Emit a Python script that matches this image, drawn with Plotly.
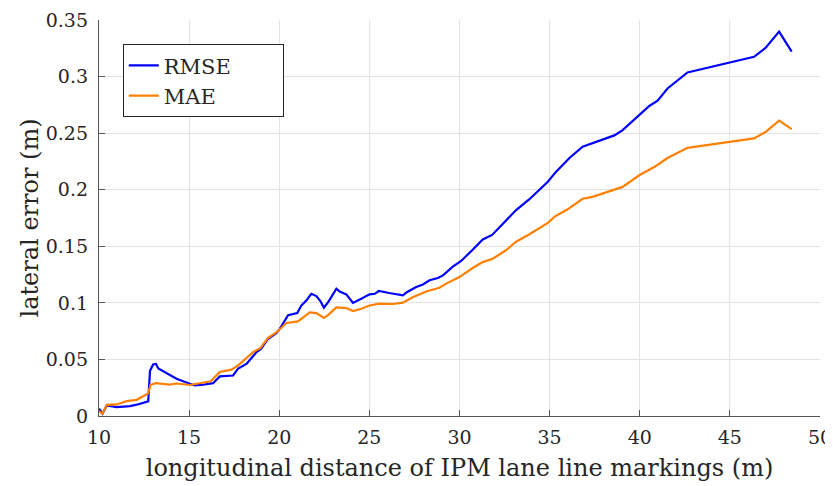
import plotly.graph_objects as go

x_rmse = [10.0, 10.2, 10.43, 10.98, 11.72, 12.09, 12.73, 12.83, 13.0, 13.16, 13.29, 13.93, 14.3, 15.04, 15.32,
          15.78, 16.33, 16.7, 17.44, 17.72, 18.18, 18.74, 19.0, 19.38, 19.84, 20.03, 20.49, 21.0, 21.23, 21.5,
          21.78, 22.06, 22.28, 22.48, 22.75, 23.17, 23.35, 23.72, 24.09, 24.55, 25.01, 25.3, 25.53, 26.1, 26.86,
          27.1, 27.6, 27.97, 28.34, 28.8, 29.08, 29.63, 30.09, 30.73, 31.29, 31.81, 32.4, 33.14, 33.88, 34.9,
          35.36, 36.1, 36.83, 37.76, 38.59, 39.05, 39.97, 40.53, 40.99, 41.54, 42.65, 44.96, 46.34, 46.99,
          47.73, 48.43]
y_rmse = [0.0064, 0.002, 0.0093, 0.0078, 0.0087, 0.010, 0.013, 0.040, 0.0456, 0.046, 0.042, 0.0367, 0.033,
          0.0285, 0.027, 0.0276, 0.029, 0.035, 0.0358, 0.042, 0.046, 0.0565, 0.0594, 0.0683, 0.0733, 0.077,
          0.089, 0.091, 0.0978, 0.102, 0.108, 0.106, 0.1016, 0.0957, 0.1016, 0.1125, 0.110, 0.1075, 0.100,
          0.1037, 0.1075, 0.108, 0.1105, 0.1087, 0.1066, 0.1096, 0.114, 0.1163, 0.120, 0.122, 0.1243, 0.132,
          0.137, 0.147, 0.156, 0.160, 0.1695, 0.182, 0.1916, 0.207, 0.216, 0.228, 0.238, 0.243, 0.248, 0.2527,
          0.2665, 0.274, 0.2786, 0.2895, 0.3037, 0.3126, 0.3175, 0.3255, 0.3397, 0.322]

x_mae = [10.0, 10.2, 10.43, 10.98, 11.53, 12.09, 12.45, 12.73, 12.86, 13.16, 13.9, 14.3, 15.04, 15.78, 16.2,
         16.7, 17.35, 17.72, 18.55, 18.95, 19.38, 19.84, 20.4, 21.04, 21.32, 21.69, 22.06, 22.48, 22.75, 23.17,
         23.72, 24.1, 24.55, 25.01, 25.57, 26.3, 26.86, 27.41, 28.15, 28.89, 29.26, 30.0, 30.73, 31.29, 31.84,
         32.58, 33.14, 33.88, 34.9, 35.26, 36.0, 36.83, 37.38, 38.59, 39.05, 39.97, 40.9, 41.54, 42.65, 46.34,
         46.99, 47.73, 48.43]
y_mae = [0.0044, 0.002, 0.0099, 0.0102, 0.0131, 0.0143, 0.0175, 0.020, 0.0276, 0.029, 0.0277, 0.0287, 0.0274,
         0.0295, 0.0307, 0.0389, 0.041, 0.0448, 0.0565, 0.060, 0.069, 0.0738, 0.0822, 0.0836, 0.0869, 0.0916,
         0.091, 0.0866, 0.0898, 0.0960, 0.0954, 0.0928, 0.0948, 0.0977, 0.0993, 0.099, 0.1002, 0.105, 0.110,
         0.1134, 0.117, 0.1228, 0.1308, 0.136, 0.139, 0.1465, 0.1540, 0.1606, 0.1706, 0.176, 0.1827, 0.192,
         0.1937, 0.1996, 0.2025, 0.2128, 0.221, 0.228, 0.237, 0.2453, 0.2512, 0.261, 0.2535]

x_ticks = [10, 15, 20, 25, 30, 35, 40, 45, 50]
y_ticks = [0, 0.05, 0.1, 0.15, 0.2, 0.25, 0.3, 0.35]
y_tick_labels = ["0", "0.05", "0.1", "0.15", "0.2", "0.25", "0.3", "0.35"]

FONT = "DejaVu Serif"
TXT = "#262626"
PAD = "\u00a0" * 7

fig = go.Figure()
fig.add_trace(go.Scatter(x=x_rmse, y=y_rmse, mode="lines", name="RMSE" + PAD,
                         line=dict(color="#0000ff", width=2.2)))
fig.add_trace(go.Scatter(x=x_mae, y=y_mae, mode="lines", name="MAE" + PAD,
                         line=dict(color="#ff8000", width=2.2)))

axis_common = dict(showgrid=True, gridcolor="#e3e3e3", gridwidth=1, zeroline=False,
                   showline=True, linecolor="#555555", linewidth=1.3,
                   ticks="inside", ticklen=6, tickcolor="#555555",
                   automargin=False,
                   tickfont=dict(family=FONT, size=19, color=TXT))

fig.update_xaxes(range=[10, 50], tickvals=x_ticks, ticktext=[str(t) for t in x_ticks],
                 ticklabelstandoff=4,
                 title=dict(text="longitudinal distance of IPM lane line markings (m)",
                            font=dict(family=FONT, size=24, color=TXT), standoff=12),
                 **axis_common)
fig.update_yaxes(range=[0, 0.35], tickvals=y_ticks, ticktext=y_tick_labels,
                 ticklabelstandoff=6,
                 title=dict(text="lateral error (m)",
                            font=dict(family=FONT, size=24, color=TXT), standoff=0),
                 **axis_common)

fig.update_layout(
    width=825, height=478,
    margin=dict(l=91, r=13, t=12, b=70),
    plot_bgcolor="white", paper_bgcolor="white",
    font=dict(family=FONT, color=TXT),
    legend=dict(x=0.033, y=0.939, xanchor="left", yanchor="top",
                bgcolor="white", bordercolor=TXT, borderwidth=1,
                font=dict(family=FONT, size=21, color=TXT),
                tracegroupgap=0),
    showlegend=True,
)

fig.write_html("out.html")
